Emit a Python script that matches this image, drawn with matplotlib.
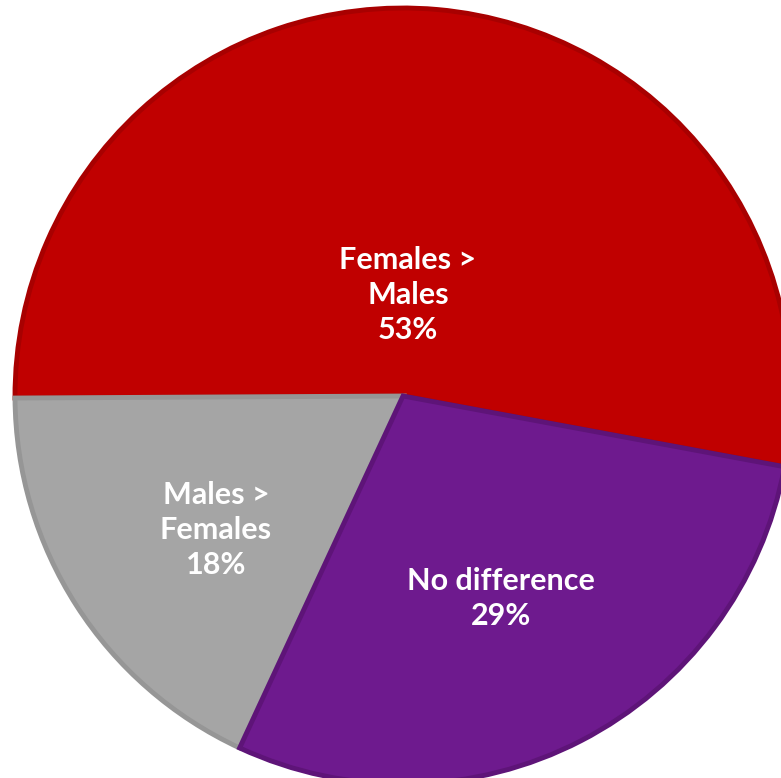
import matplotlib
matplotlib.use("Agg")
import matplotlib.pyplot as plt

# Porcentajes por categoría (orden antihorario desde el ángulo inicial)
categorias = ["Females >\nMales", "Males >\nFemales", "No difference"]
valores = [53, 18, 29]
colores = ["#C00000", "#A5A5A5", "#6E1A8E"]
bordes = ["#A80000", "#969696", "#5E1478"]
# posición de cada etiqueta dentro de su porción
pos_etiquetas = [(0.013, 0.26), (-0.482, -0.345), (0.253, -0.521)]

fig = plt.figure(figsize=(7.81, 7.78), dpi=100)
ax = fig.add_axes([0, 0, 1, 1])

wedges, _ = ax.pie(valores, colors=colores, startangle=-10.5, counterclock=True,
                   radius=1.0, center=(0, 0))
for w, b in zip(wedges, bordes):
    w.set_edgecolor(b)
    w.set_linewidth(3.5)

for cat, val, (x, y) in zip(categorias, valores, pos_etiquetas):
    ax.text(x, y, f"{cat}\n{val}%", ha="center", va="center", color="white",
            fontsize=22, fontweight="bold", family="Lato", linespacing=1.3)

# escala: 388 px por unidad, centro en (403, 396)
ax.set_xlim(-403 / 388, (781 - 403) / 388)
ax.set_ylim(-(778 - 396) / 388, 396 / 388)
ax.set_aspect("auto")
ax.axis("off")

fig.savefig("out.png", dpi=100)
